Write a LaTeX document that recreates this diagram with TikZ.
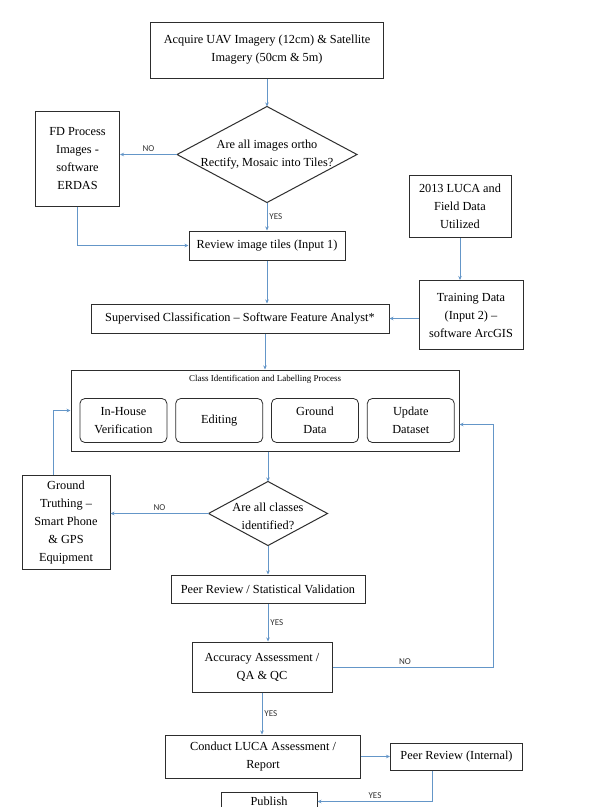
\documentclass[tikz,border=0pt]{standalone}
\usepackage{fontspec}
\setmainfont{Liberation Serif}
\newfontfamily\answerfont{Carlito}
\usetikzlibrary{arrows.meta,positioning,shapes.geometric}
\definecolor{flowblue}{RGB}{100,150,200}
\definecolor{boxgray}{RGB}{45,45,45}
\tikzset{
	process/.style={
		rectangle, draw=boxgray, line width=1pt, align=center,
		inner sep=2pt, font=\fontsize{12.3}{18}\selectfont
	},
	%
	subtask/.style={
		rectangle, rounded corners=5pt, draw=boxgray, line width=0.8pt,
		minimum width=87pt, minimum height=44pt, align=center,
		inner sep=2pt, font=\fontsize{12.3}{18}\selectfont
	},
	%
	decision/.style={
		diamond, draw=boxgray, line width=1pt, inner sep=0pt, outer sep=0pt
	},
	%
	plaintext/.style={
		align=center, inner sep=0pt, font=\fontsize{12.3}{18}\selectfont
	},
	%
	answer/.style={
		font=\answerfont\fontsize{9}{10}\selectfont, text=black!80, inner sep=2pt
	},
	%
	flow/.style={
		->, >={Stealth[length=4pt,width=3.5pt]}, draw=flowblue, line width=0.9pt
	}
}

\begin{document}
\begin{tikzpicture}
\useasboundingbox[fill=white] (0,0) rectangle (609pt,-807pt);

%boxes
\node (acquire) [process, minimum width=233pt, minimum height=56pt] at (267pt,-50pt) {Acquire UAV Imagery (12cm) \& Satellite\\Imagery (50cm \& 5m)};
\node (ortho) [decision, minimum width=180pt, minimum height=96pt, below=28pt of acquire] {};
\node (orthotext) [plaintext] at (ortho) {Are all images ortho\\Rectify, Mosaic into Tiles?};
\node (fdproc) [process, minimum width=84pt, minimum height=95pt, left=57pt of ortho, yshift=-4pt] {FD Process\\Images -\\software\\ERDAS};
\node (review) [process, minimum width=156pt, minimum height=29pt, below=28pt of ortho] {Review image tiles (Input 1)};
\node (luca) [process, minimum width=102pt, minimum height=62pt, right=63pt of review, yshift=39pt] {2013 LUCA and\\Field Data\\Utilized};
\node (training) [process, minimum width=104pt, minimum height=69pt, below=42pt of luca, xshift=11pt] {Training Data\\(Input 2) --\\software ArcGIS};
\node (supervised) [process, minimum width=298pt, minimum height=29pt, below=43pt of review, xshift=-27pt] {Supervised Classification -- Software Feature Analyst*};

%class identification
\node (classproc) [process, minimum width=388pt, minimum height=81pt, below=36pt of supervised, xshift=25pt] {};
\node (classtitle) [plaintext, font=\fontsize{9}{11}\selectfont, below=5pt of classproc.north] {Class Identification and Labelling Process};
\node (inhouse) [subtask, right=9pt of classproc.west, yshift=-10pt] {In-House\\Verification};
\node (editing) [subtask, right=8pt of inhouse] {Editing};
\node (ground) [subtask, right=8pt of editing] {Ground\\Data};
\node (update) [subtask, right=8pt of ground] {Update\\Dataset};

\node (classes) [decision, minimum width=119pt, minimum height=64pt, below=30pt of classproc, xshift=3pt] {};
\node (classestext) [plaintext, yshift=-3pt] at (classes) {Are all classes\\identified?};
\node (groundtruth) [process, minimum width=88pt, minimum height=94pt, left=98pt of classes, yshift=-9pt] {Ground\\Truthing --\\Smart Phone\\\& GPS\\Equipment};
\node (peerstat) [process, minimum width=194pt, minimum height=28pt, below=29pt of classes] {Peer Review / Statistical Validation};
\node (accuracy) [process, minimum width=140pt, minimum height=50pt, below=38pt of peerstat, xshift=-6pt] {Accuracy Assessment /\\QA \& QC};
\node (conduct) [process, minimum width=195pt, minimum height=43pt, below=42pt of accuracy, xshift=1pt] {Conduct LUCA Assessment /\\Report};
\node (peerint) [process, minimum width=132pt, minimum height=27pt, right=29pt of conduct] {Peer Review (Internal)};
\node (publish) [process, minimum width=96pt, minimum height=19pt, inner sep=1pt, below=13pt of conduct, xshift=6pt] {Publish};

\coordinate[right=161pt of accuracy.east] (backR);

%arrows
\draw[flow] (acquire) -- (ortho);
\draw[flow] (ortho.west) -- node[answer, above] {NO} (ortho.west -| fdproc.east);
\draw[flow] (ortho) -- node[answer, right] {YES} (review);
\draw[flow] (fdproc) |- (review);
\draw[flow] (luca) -- (luca |- training.north);
\draw[flow] (training.west |- supervised) -- (supervised);
\draw[flow] (review) -- (review |- supervised.north);
\draw[flow] (classproc |- supervised.south) -- (classproc);
\draw[flow] (classproc.south -| classes) -- (classes);
\draw[flow] (classes.west) -- node[answer, above] {NO} (classes.west -| groundtruth.east);
\draw[flow] ([xshift=-13pt]groundtruth.north) |- (classproc.west);
\draw[flow] (classes) -- (peerstat);
\draw[flow] (peerstat) -- node[answer, right] {YES} (peerstat |- accuracy.north);
\draw[flow] (accuracy) -- node[answer, right] {YES} (accuracy |- conduct.north);
\draw[flow] (accuracy.east) -- node[answer, above, pos=0.45] {NO} (backR) |- ([yshift=-14pt]classproc.east);
\draw[flow] (conduct) -- (peerint);
\draw[flow] ([xshift=-24pt]peerint.south) |- node[answer, above, pos=0.75] {YES} (publish);

\end{tikzpicture}
\end{document}
